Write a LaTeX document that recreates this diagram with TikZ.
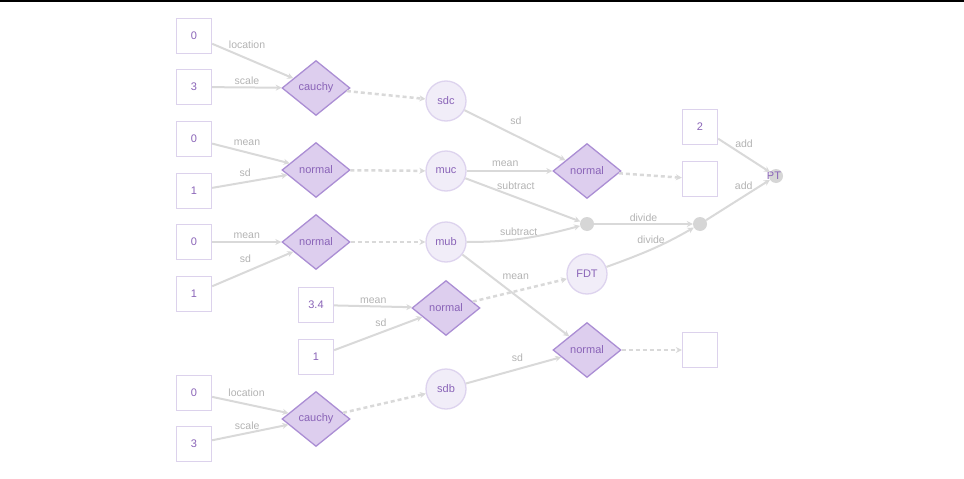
\documentclass[tikz,border=0pt]{standalone}
\usepackage{fontspec}
\setmainfont{Liberation Sans}
\usetikzlibrary{shapes.geometric,arrows.meta}
\definecolor{edgegrey}{HTML}{D9D9D9}
\definecolor{lblgrey}{HTML}{B3B3B3}
\definecolor{nodetext}{HTML}{8A64B8}
\definecolor{boxline}{HTML}{DCD2EC}
\definecolor{diafill}{HTML}{DDCEEE}
\definecolor{dialine}{HTML}{AB8ED4}
\definecolor{circfill}{HTML}{F1EDF8}
\definecolor{circline}{HTML}{DDD3EE}
\definecolor{dotgrey}{HTML}{D6D6D6}
\begin{document}
\begin{tikzpicture}[x=1pt,y=-1pt,
	every node/.style={font=\fontsize{11}{13}\selectfont,text=nodetext},
	valbox/.style={draw=boxline,line width=1.3pt,fill=white,minimum size=35pt,inner sep=0pt},
	distr/.style={diamond,draw=dialine,fill=diafill,line width=1.3pt,minimum width=68pt,minimum height=55pt,inner sep=0pt,aspect=1.24},
	param/.style={circle,draw=circline,fill=circfill,line width=1.3pt,minimum size=40pt,inner sep=0pt},
	op/.style={circle,fill=dotgrey,minimum size=14pt,inner sep=0pt},
	arg/.style={draw=edgegrey,line width=2pt,-{Stealth[length=6pt,width=6pt]}},
	sample/.style={arg,line width=2.5pt,dash pattern=on 4pt off 3pt},
	lbl/.style={font=\fontsize{10.5}{12}\selectfont,text=lblgrey,inner sep=0pt}]
		\useasboundingbox(0,0)rectangle(964,479);
		\fill[black](0,0)rectangle(964,2);
		% constants
		\node[valbox](loc1)at(194,36){0};
		\node[valbox](scl1)at(194,87){3};
		\node[valbox](mu1)at(194,139){0};
		\node[valbox](sd1)at(194,191){1};
		\node[valbox](mu2)at(194,242){0};
		\node[valbox](sd2)at(194,294){1};
		\node[valbox](mu3)at(316,305){3.4};
		\node[valbox](sd3)at(316,357){1};
		\node[valbox](loc2)at(194,393){0};
		\node[valbox](scl2)at(194,444){3};
		\node[valbox](two)at(700,127){2};
		\node[valbox](outA)at(700,179){};
		\node[valbox](outB)at(700,350){};
		% distributions
		\node[distr](cauchy1)at(316,88){cauchy};
		\node[distr](normal1)at(316,170){normal};
		\node[distr](normal2)at(316,242){normal};
		\node[distr](normal3)at(446,308){normal};
		\node[distr](cauchy2)at(316,419){cauchy};
		\node[distr](normal4)at(587,171){normal};
		\node[distr](normal5)at(587,350){normal};
		% parameters
		\node[param](sdc)at(446,101){sdc};
		\node[param](muc)at(446,171){muc};
		\node[param](mub)at(446,242){mub};
		\node[param](sdb)at(446,389){sdb};
		\node[param](FDT)at(587,274){FDT};
		% operations
		\node[op](sub)at(587,224){};
		\node[op](div)at(700,224){};
		\node[op,label={[xshift=-2pt]center:PT}](PT)at(776,176){};
		% arguments
		\draw[arg](loc1)--node[lbl,pos=.43,yshift=14pt]{location}(cauchy1);
		\draw[arg](scl1)--node[lbl,pos=.5,yshift=7pt]{scale}(cauchy1);
		\draw[arg](mu1)--node[lbl,pos=.45,yshift=10pt]{mean}(normal1);
		\draw[arg](sd1)--node[lbl,pos=.44,yshift=9pt]{sd}(normal1);
		\draw[arg](mu2)--node[lbl,pos=.5,yshift=6pt]{mean}(normal2);
		\draw[arg](sd2)--node[lbl,pos=.41,yshift=13pt]{sd}(normal2);
		\draw[arg](mu3)--node[lbl,pos=.5,yshift=6pt]{mean}(normal3);
		\draw[arg](sd3)--node[lbl,pos=.53,yshift=10pt]{sd}(normal3);
		\draw[arg](loc2)--node[lbl,pos=.45,yshift=11pt]{location}(cauchy2);
		\draw[arg](scl2)--node[lbl,pos=.46,yshift=7pt]{scale}(cauchy2);
		\draw[arg](sdc)--node[lbl,pos=.51,yshift=15pt]{sd}(normal4);
		\draw[arg](muc)--node[lbl,pos=.45,yshift=7pt]{mean}(normal4);
		\draw[arg](muc)--node[lbl,pos=.44,yshift=12pt]{subtract}(sub);
		\draw[arg](mub)to[out=0,in=195]node[lbl,pos=.45,yshift=7pt]{subtract}(sub);
		\draw[arg](sub)--node[lbl,pos=.5,yshift=6pt]{divide}(div);
		\draw[arg](FDT)to[out=20,in=210]node[lbl,pos=.5,yshift=10pt]{divide}(div);
		\draw[arg](two)--node[lbl,pos=.5,yshift=12pt]{add}(PT);
		\draw[arg](div)--node[lbl,pos=.59,yshift=11pt]{add}(PT);
		\draw[arg](mub)--node[lbl,pos=.5,yshift=19pt]{mean}(normal5);
		\draw[arg](sdb)--node[lbl,pos=.54,yshift=12pt]{sd}(normal5);
		% samples
		\foreach\d/\p in{cauchy1/sdc,normal1/muc,normal2/mub,normal3/FDT,cauchy2/sdb,normal4/outA,normal5/outB}{\draw[sample](\d)--(\p);}
		\end{tikzpicture}
\end{document}
